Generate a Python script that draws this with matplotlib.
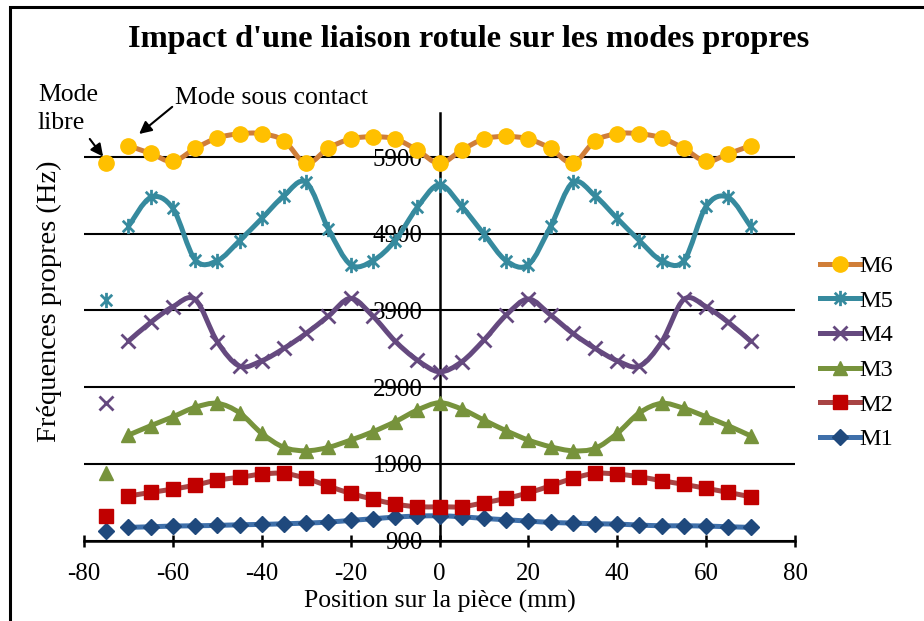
import numpy as np
import matplotlib.pyplot as plt
from matplotlib.path import Path
from matplotlib.patches import PathPatch, Rectangle
from matplotlib.lines import Line2D

plt.rcParams['font.family'] = ['Liberation Serif', 'DejaVu Serif']
plt.rcParams['axes.unicode_minus'] = False

# positions le long de la piece (mm)
pos = [-70, -65, -60, -55, -50, -45, -40, -35, -30, -25, -20, -15, -10, -5, 0,
       5, 10, 15, 20, 25, 30, 35, 40, 45, 50, 55, 60, 65, 70]
pos_libre = -75

# frequences sous contact (Hz)
m1 = [1071, 1079, 1088, 1092, 1097, 1105, 1110, 1118, 1127, 1140, 1162, 1183, 1205, 1218, 1222,
      1209, 1188, 1170, 1153, 1136, 1127, 1118, 1114, 1101, 1092, 1092, 1088, 1079, 1071]
m2 = [1479, 1527, 1570, 1622, 1688, 1723, 1766, 1775, 1710, 1609, 1514, 1440, 1375, 1340, 1340,
      1340, 1392, 1449, 1522, 1613, 1710, 1775, 1766, 1731, 1679, 1632, 1580, 1527, 1470]
m3 = [2274, 2396, 2513, 2636, 2688, 2565, 2297, 2114, 2070, 2114, 2209, 2318, 2448, 2600, 2696,
      2613, 2470, 2331, 2209, 2122, 2070, 2101, 2297, 2565, 2688, 2623, 2513, 2396, 2265]
m4 = [3500, 3744, 3948, 4044, 3491, 3174, 3243, 3405, 3601, 3826, 4057, 3826, 3500, 3252, 3100,
      3230, 3513, 3839, 4048, 3839, 3601, 3405, 3243, 3174, 3491, 4044, 3948, 3744, 3500]
m5 = [4995, 5373, 5230, 4561, 4548, 4809, 5099, 5395, 5569, 4961, 4496, 4548, 4809, 5243, 5539,
      5256, 4896, 4548, 4496, 4995, 5569, 5395, 5099, 4809, 4548, 4548, 5256, 5373, 4995]
m6 = [6047, 5947, 5843, 6012, 6148, 6204, 6204, 6113, 5817, 6017, 6135, 6165, 6135, 5991, 5817,
      5991, 6135, 6169, 6135, 6012, 5822, 6109, 6204, 6204, 6148, 6012, 5843, 5943, 6047]

# frequences du mode libre (Hz)
libre = {'M1': 1026, 'M2': 1218, 'M3': 1775, 'M4': 2688, 'M5': 4035, 'M6': 5817}

noms = ['M1', 'M2', 'M3', 'M4', 'M5', 'M6']
series = [m1, m2, m3, m4, m5, m6]

# marqueur etoile : croix + trait vertical
etoile = Path([(0, -1), (0, 1), (-0.75, -0.75), (0.75, 0.75), (-0.75, 0.75), (0.75, -0.75)],
              [Path.MOVETO, Path.LINETO] * 3)

# style : (couleur ligne, marqueur, couleur marqueur, taille)
styles = {
    'M1': ('#3F70AA', 'D', '#1F497D', 8),
    'M2': ('#A84444', 's', '#C00000', 9.5),
    'M3': ('#77933C', '^', '#77933C', 10),
    'M4': ('#65497F', 'x', '#65497F', 10),
    'M5': ('#368A9E', etoile, '#368A9E', 11),
    'M6': ('#D07E38', 'o', '#FFC000', 11),
}


def smooth_path(x, y):
    # courbe lissee type tableur (Bezier a partir des points)
    pts = np.column_stack([x, y]).astype(float)
    n = len(pts)
    verts = [pts[0]]
    codes = [Path.MOVETO]
    for i in range(n - 1):
        p0 = pts[i - 1] if i > 0 else pts[i]
        p1 = pts[i]
        p2 = pts[i + 1]
        p3 = pts[i + 2] if i + 2 < n else pts[i + 1]
        verts += [p1 + (p2 - p0) / 6, p2 - (p3 - p1) / 6, p2]
        codes += [Path.CURVE4] * 3
    return Path(verts, codes)


fig = plt.figure(figsize=(9.24, 6.21), dpi=100)
ax = fig.add_axes([84 / 924, 1 - 540.5 / 621, 711 / 924, 427.2 / 621])

handles = []
for nom, vals in zip(noms, series):
    lc, mk, mc, ms = styles[nom]
    ax.add_patch(PathPatch(smooth_path(pos, vals), fill=False, ec=lc, lw=3.6,
                           capstyle='round', joinstyle='round', zorder=3))
    mew = 2 if nom in ('M4', 'M5') else 1
    ax.plot(pos, vals, ls='none', marker=mk, ms=ms, mfc=mc, mec=mc, mew=mew,
            zorder=4, clip_on=False)
    ax.plot([pos_libre], [libre[nom]], ls='none', marker=mk, ms=ms, mfc=mc, mec=mc,
            mew=mew, zorder=4, clip_on=False)
    handles.append(Line2D([], [], color=lc, lw=3.6, marker=mk, ms=ms, mfc=mc,
                          mec=mc, mew=mew, label=nom))

ax.set_xlim(-80, 80)
ax.set_ylim(900, 6470)
ax.set_xticks(range(-80, 81, 20))
ax.set_yticks(range(900, 5901, 1000))
ax.grid(axis='y', color='black', lw=1.5)
ax.set_axisbelow(True)

for s in ['top', 'right']:
    ax.spines[s].set_visible(False)
ax.spines['left'].set_position(('data', 0))
ax.spines['left'].set_linewidth(1.8)
ax.spines['bottom'].set_linewidth(1.8)
ax.tick_params(axis='x', direction='inout', length=9, width=1.8, labelsize=18, pad=12)
ax.tick_params(axis='y', length=0, labelsize=18, pad=12)

ax.set_xlabel('Position sur la pièce (mm)', fontsize=18.5, labelpad=3)
ax.set_ylabel('Fréquences propres (Hz)', fontsize=20.5)
ax.yaxis.set_label_coords(-0.031, 0.56)

fig.text(469 / 924, 1 - 40 / 621, "Impact d'une liaison rotule sur les modes propres",
         ha='center', va='center', fontsize=23.3, fontweight='bold')

ax.legend(handles=handles[::-1], loc='upper left', bbox_to_anchor=(808 / 924, 1 - 243 / 621),
          bbox_transform=fig.transFigure, frameon=False, fontsize=17.5,
          handlelength=1.65, handletextpad=-0.02, labelspacing=0.52, borderpad=0)

# annotations
ax.annotate('Mode\nlibre', xy=(-75.7, 5905), xytext=(38, 621 - 84),
            textcoords='figure pixels', ha='left', va='top', fontsize=18.5,
            linespacing=1.35, annotation_clip=False,
            arrowprops=dict(arrowstyle='-|>', color='black', lw=1.5,
                            shrinkA=2, shrinkB=0, relpos=(0.8, 0)))
ax.annotate('Mode sous contact', xy=(-67.6, 6200), xytext=(175, 621 - 98),
            textcoords='figure pixels', ha='left', va='center', fontsize=18.5,
            annotation_clip=False,
            arrowprops=dict(arrowstyle='-|>', color='black', lw=1.5,
                            shrinkA=0, shrinkB=0, relpos=(0, 0.2)))

# cadre du graphique
fig.patches.append(Rectangle((10 / 924, -0.1), 1.2, 1 - 7 / 621 + 0.1,
                             transform=fig.transFigure, fill=False, ec='black', lw=2.2))

fig.savefig('out.png', dpi=100)
